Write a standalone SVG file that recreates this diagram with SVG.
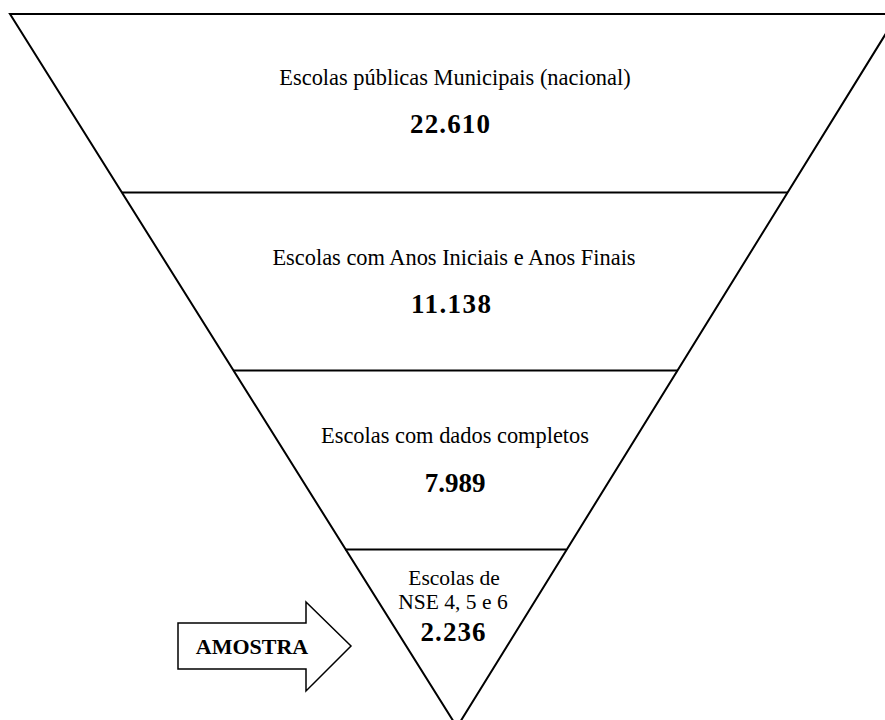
<svg xmlns="http://www.w3.org/2000/svg" width="885" height="720" viewBox="0 0 885 720">
<style>
.ln{stroke:#000;stroke-width:2;fill:none}
.t{font-family:"Liberation Serif","Times New Roman",serif;font-size:22.4px;fill:#000;text-anchor:middle}
.s{font-family:"Liberation Serif","Times New Roman",serif;font-size:21.5px;fill:#000;text-anchor:middle}
.n{font-family:"Liberation Serif","Times New Roman",serif;font-size:27px;font-weight:bold;fill:#000;text-anchor:middle}
.a{font-family:"Liberation Serif","Times New Roman",serif;font-size:22px;font-weight:bold;fill:#000;text-anchor:middle}
</style>
<rect width="885" height="720" fill="#fff"/>
<g id="funnel">
<polygon class="ln" points="10,14 898,14 457,727"/>
</g>
<g id="connectors">
<line class="ln" x1="122" y1="192.5" x2="788" y2="192.5"/>
<line class="ln" x1="233" y1="370.5" x2="678" y2="370.5"/>
<line class="ln" x1="345" y1="549.5" x2="566" y2="549.5"/>
</g>
<g id="level1">
<text class="t" x="455" y="85">Escolas públicas Municipais (nacional)</text>
<text class="n" x="450" y="133" textLength="80" lengthAdjust="spacing">22.610</text>
</g>
<g id="level2">
<text class="t" x="454" y="265">Escolas com Anos Iniciais e Anos Finais</text>
<text class="n" x="451" y="313" textLength="80" lengthAdjust="spacing">11.138</text>
</g>
<g id="level3">
<text class="t" x="455" y="443">Escolas com dados completos</text>
<text class="n" x="455" y="492">7.989</text>
</g>
<g id="level4">
<text class="s" x="454" y="585">Escolas de</text>
<text class="s" x="453" y="609">NSE 4, 5 e 6</text>
<text class="n" x="453" y="641" textLength="65" lengthAdjust="spacing">2.236</text>
</g>
<g id="amostra">
<polygon points="178,623 306,623 306,602 351,646 306,691 306,669 178,669" fill="#fff" stroke="#000" stroke-width="1.5"/>
<text class="a" x="252" y="654">AMOSTRA</text>
</g>
</svg>
